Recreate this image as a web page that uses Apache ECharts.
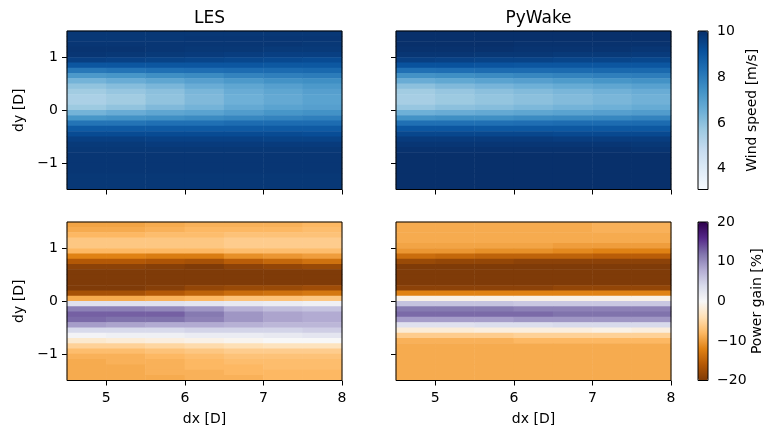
<!DOCTYPE html>
<html>
<head>
<meta charset="utf-8">
<script src="https://cdn.jsdelivr.net/npm/echarts@6/dist/echarts.min.js"></script>
<style>
html, body { margin: 0; padding: 0; background: #fff; }
#main { width: 774px; height: 435px; }
</style>
</head>
<body>
<div id="main"></div>
<script>
// cell centres of the grid (dx columns, dy rows listed top to bottom)
var dxCells = [4.75, 5.25, 5.75, 6.25, 6.75, 7.25, 7.75];
var dyCells = [1.45, 1.35, 1.25, 1.15, 1.05, 0.95, 0.85, 0.75, 0.65, 0.55, 0.45, 0.35, 0.25, 0.15, 0.05,
	-0.05, -0.15, -0.25, -0.35, -0.45, -0.55, -0.65, -0.75, -0.85, -0.95, -1.05, -1.15, -1.25, -1.35, -1.45];
var xTicks = [5, 6, 7, 8];
var yTicks = [-1, 0, 1];
var speedTicks = [4, 6, 8, 10];
var gainTicks = [-20, -10, 0, 10, 20];

// wind speed [m/s], one profile per dx column
var lesSpeed = [
	[9.8, 9.8, 9.85, 9.9, 9.85, 9.6, 9.0, 8.1, 7.2, 6.4, 5.9, 5.6, 5.4, 5.4, 5.7, 6.4, 7.3, 8.2, 8.9, 9.3, 9.6, 9.75, 9.8, 9.85, 9.85, 9.85, 9.85, 9.8, 9.8, 9.8],
	[9.8, 9.8, 9.85, 9.9, 9.8, 9.55, 9.0, 8.2, 7.3, 6.6, 6.1, 5.8, 5.6, 5.6, 5.9, 6.6, 7.4, 8.2, 8.9, 9.3, 9.6, 9.75, 9.8, 9.85, 9.85, 9.85, 9.85, 9.8, 9.8, 9.8],
	[9.8, 9.8, 9.85, 9.85, 9.75, 9.5, 9.0, 8.3, 7.5, 6.8, 6.3, 6.0, 5.9, 5.9, 6.2, 6.8, 7.5, 8.3, 8.9, 9.3, 9.55, 9.7, 9.8, 9.85, 9.85, 9.85, 9.85, 9.8, 9.8, 9.8],
	[9.8, 9.85, 9.85, 9.8, 9.7, 9.45, 9.0, 8.35, 7.6, 7.0, 6.6, 6.3, 6.2, 6.2, 6.4, 6.9, 7.6, 8.3, 8.9, 9.3, 9.55, 9.7, 9.8, 9.85, 9.85, 9.85, 9.85, 9.8, 9.8, 9.8],
	[9.8, 9.85, 9.85, 9.8, 9.65, 9.4, 9.0, 8.4, 7.8, 7.2, 6.8, 6.6, 6.5, 6.5, 6.7, 7.1, 7.7, 8.4, 8.9, 9.3, 9.55, 9.7, 9.8, 9.85, 9.85, 9.85, 9.85, 9.8, 9.8, 9.8],
	[9.8, 9.85, 9.85, 9.75, 9.6, 9.35, 8.95, 8.45, 7.9, 7.4, 7.0, 6.8, 6.7, 6.7, 6.9, 7.3, 7.8, 8.4, 8.9, 9.3, 9.5, 9.7, 9.8, 9.85, 9.85, 9.85, 9.85, 9.8, 9.8, 9.8],
	[9.8, 9.85, 9.8, 9.75, 9.6, 9.3, 8.95, 8.5, 8.0, 7.5, 7.2, 7.0, 6.9, 6.9, 7.0, 7.4, 7.9, 8.4, 8.9, 9.25, 9.5, 9.7, 9.8, 9.85, 9.85, 9.85, 9.85, 9.8, 9.8, 9.8]
];
var pyWakeSpeed = [
	[10, 10, 10, 9.95, 9.85, 9.6, 9.1, 8.3, 7.4, 6.6, 6.0, 5.6, 5.5, 5.5, 5.8, 6.5, 7.4, 8.3, 9.0, 9.4, 9.7, 9.85, 9.95, 10, 10, 10, 10, 10, 10, 10],
	[10, 10, 10, 9.95, 9.85, 9.55, 9.1, 8.35, 7.5, 6.75, 6.2, 5.8, 5.7, 5.7, 6.0, 6.6, 7.5, 8.3, 9.0, 9.4, 9.7, 9.85, 9.95, 10, 10, 10, 10, 10, 10, 10],
	[10, 10, 10, 9.95, 9.8, 9.5, 9.05, 8.4, 7.6, 6.9, 6.35, 6.0, 5.85, 5.85, 6.1, 6.7, 7.5, 8.3, 8.95, 9.4, 9.7, 9.85, 9.95, 10, 10, 10, 10, 10, 10, 10],
	[10, 10, 9.95, 9.9, 9.8, 9.5, 9.0, 8.4, 7.7, 7.0, 6.5, 6.15, 6.0, 6.0, 6.25, 6.8, 7.6, 8.35, 8.95, 9.4, 9.7, 9.85, 9.95, 10, 10, 10, 10, 10, 10, 10],
	[10, 10, 9.95, 9.9, 9.75, 9.45, 9.0, 8.45, 7.8, 7.15, 6.65, 6.3, 6.15, 6.15, 6.4, 6.9, 7.65, 8.4, 8.95, 9.35, 9.65, 9.85, 9.95, 10, 10, 10, 10, 10, 10, 10],
	[10, 10, 9.95, 9.9, 9.75, 9.45, 9.0, 8.5, 7.9, 7.3, 6.8, 6.45, 6.3, 6.3, 6.5, 7.0, 7.7, 8.4, 8.95, 9.35, 9.65, 9.85, 9.95, 10, 10, 10, 10, 10, 10, 10],
	[10, 10, 9.95, 9.85, 9.7, 9.4, 9.0, 8.5, 7.95, 7.4, 6.95, 6.6, 6.45, 6.45, 6.65, 7.1, 7.8, 8.45, 8.95, 9.35, 9.65, 9.8, 9.9, 10, 10, 10, 10, 10, 10, 10]
];

// power gain [%]
var lesGain = [
	[-9.5, -9, -8, -6.5, -6.5, -8, -12, -16, -19, -20, -20, -20, -20, -17, -9, 3, 11, 13, 12.5, 9, 4, 0.5, -2.5, -5.5, -7.5, -8.5, -9, -9, -9, -9],
	[-9.5, -9, -8, -6.5, -6.5, -8, -12, -16, -19, -20, -20, -20, -20, -17, -9, 3, 11, 13, 12, 8.5, 4, 1, -2, -5.5, -7.5, -8.5, -8.5, -9, -9, -9],
	[-9, -8.5, -7.5, -6.5, -6.5, -8, -12.5, -16.5, -19.5, -20, -20, -20, -19.5, -16, -8.5, 3, 10.5, 13, 12, 8, 4, 1, -1.5, -5, -7, -8, -8.5, -8.5, -8.5, -9],
	[-8.5, -8, -7.5, -6.5, -6.5, -8, -12.5, -17, -20, -20, -20, -20, -18.5, -15, -8, 2.5, 9.5, 11.5, 11, 8, 4.5, 1.5, -1, -4.5, -6.5, -7.5, -8, -8, -8.5, -8.5],
	[-8.5, -8, -7, -6, -6, -7.5, -11, -15.5, -19, -20, -20, -20, -18, -14, -7, 2, 7.5, 9.5, 9.5, 7.5, 4.5, 1.5, -0.5, -4, -6, -7, -7.5, -8, -8, -8.5],
	[-8.5, -8, -7, -6, -6, -7.5, -10.5, -14.5, -18.5, -20, -20, -20, -18, -13.5, -7, 1.5, 6.5, 8.5, 8.5, 7, 4.5, 2, 0, -3.5, -6, -7, -7.5, -7.5, -8, -8],
	[-8, -7.5, -7, -6, -6, -7.5, -10, -13.5, -18, -20, -20, -20, -17.5, -13, -6.5, 1, 6, 8, 8, 7, 5, 2.5, 0, -3.5, -6, -7, -7.5, -7.5, -8, -8]
];
var pyWakeGain = [
	[-9, -9, -9, -9, -9.5, -10.5, -14, -18, -20, -20, -20, -20, -19, -12, -1, 6, 11.5, 12.5, 9, 3, -2, -6, -8.5, -9, -9, -9, -9, -9, -9, -9],
	[-9, -9, -9, -9, -9.5, -10.5, -14.5, -18.5, -20, -20, -20, -20, -19, -12, -1, 6, 11.5, 12.5, 9, 3, -2, -6, -8.5, -9, -9, -9, -9, -9, -9, -9],
	[-9, -9, -9, -9, -9.5, -11, -15, -18.5, -20, -20, -20, -20, -19, -12, -1, 6, 11.5, 12.5, 9, 3.5, -1.5, -6, -8.5, -9, -9, -9, -9, -9, -9, -9],
	[-9, -9, -9, -9, -9.5, -11, -15, -19, -20, -20, -20, -20, -19, -12, -1, 5.5, 11, 12.5, 9.5, 3.5, -1.5, -5.5, -8, -9, -9, -9, -9, -9, -9, -9],
	[-9, -9, -9, -9, -10, -11.5, -15, -19, -20, -20, -20, -20, -18.5, -12, -1, 5.5, 11, 12, 9.5, 4, -1.5, -5.5, -8, -9, -9, -9, -9, -9, -9, -9],
	[-8.5, -8.5, -9, -9, -10, -12, -15.5, -19, -20, -20, -20, -20, -18.5, -12, -1, 5.5, 11, 12, 9.5, 4, -1, -5.5, -8, -9, -9, -9, -9, -9, -9, -9],
	[-8.5, -8.5, -9, -9, -10, -12, -15.5, -19, -20, -20, -20, -20, -18.5, -12, -1, 5.5, 11, 12, 9.5, 4, -1.5, -5.5, -8, -9, -9, -9, -9, -9, -9, -9]
];

var blues = ['#f7fbff', '#deebf7', '#c6dbef', '#9ecae1', '#6baed6', '#4292c6', '#2171b5', '#08519c', '#08306b'];
var puor = ['#7f3b08', '#b35806', '#e08214', '#fdb863', '#fee0b6', '#f7f7f7', '#d8daeb', '#b2abd2', '#8073ac', '#542788', '#2d004b'];

var font = 'DejaVu Sans';
var minus = function (v) { return String(v).replace('-', '\u2212'); };

function toCells(cols) {
	var out = [];
	cols.forEach(function (col, i) {
		col.forEach(function (v, j) { out.push([i, j, v]); });
	});
	return out;
}

var panels = [
	{ left: 67, top: 31, title: 'LES', data: lesSpeed, bottomRow: false, leftCol: true },
	{ left: 396, top: 31, title: 'PyWake', data: pyWakeSpeed, bottomRow: false, leftCol: false },
	{ left: 67, top: 222, title: '', data: lesGain, bottomRow: true, leftCol: true },
	{ left: 396, top: 222, title: '', data: pyWakeGain, bottomRow: true, leftCol: false }
];

var grid = [], xAxis = [], yAxis = [], series = [], title = [];
var tickStyle = { length: 5, lineStyle: { color: '#000', width: 1 } };
var labelStyle = { color: '#000', fontSize: 14, fontFamily: font };

panels.forEach(function (p, i) {
	grid.push({ left: p.left, top: p.top, width: 275, height: 158.5, show: true,
		borderColor: '#000', borderWidth: 1, backgroundColor: 'transparent', z: 10, outerBoundsMode: 'none' });
	xAxis.push({ gridIndex: i, type: 'category', data: dxCells, show: false, position: 'top' });
	xAxis.push({
		gridIndex: i, type: 'value', min: 4.5, max: 8, position: 'bottom',
		axisLine: { show: false }, splitLine: { show: false },
		axisTick: Object.assign({ customValues: xTicks }, tickStyle),
		axisLabel: Object.assign({ show: p.bottomRow, customValues: xTicks, margin: 11 }, labelStyle),
		name: p.bottomRow ? 'dx [D]' : '', nameLocation: 'middle', nameGap: 32,
		nameTextStyle: labelStyle
	});
	yAxis.push({ gridIndex: i, type: 'category', data: dyCells, inverse: true, show: false, position: 'right' });
	yAxis.push({
		gridIndex: i, type: 'value', min: -1.5, max: 1.5, position: 'left',
		axisLine: { show: false }, splitLine: { show: false },
		axisTick: Object.assign({ customValues: yTicks }, tickStyle),
		axisLabel: Object.assign({ show: p.leftCol, customValues: yTicks, margin: 9, formatter: minus }, labelStyle),
		name: p.leftCol ? 'dy [D]' : '', nameLocation: 'middle', nameGap: 41, nameRotate: 90,
		nameTextStyle: labelStyle
	});
	series.push({
		type: 'heatmap', xAxisIndex: 2 * i, yAxisIndex: 2 * i,
		data: toCells(p.data), emphasis: { disabled: true }, itemStyle: { borderWidth: 0 }
	});
	if (p.title) {
		title.push({ text: p.title, left: p.left + 137.5, top: 5, textAlign: 'center',
			textStyle: { fontSize: 17, fontWeight: 'normal', color: '#000', fontFamily: font } });
	}
});

// colorbar frames and tick axes
var bars = [
	{ top: 31, min: 3.1, max: 10, ticks: speedTicks, name: 'Wind speed [m/s]' },
	{ top: 222, min: -20, max: 20, ticks: gainTicks, name: 'Power gain [%]' }
];
bars.forEach(function (b, k) {
	var gi = 4 + k;
	grid.push({ left: 698, top: b.top, width: 10, height: 158.5, show: true,
		borderColor: '#000', borderWidth: 1, backgroundColor: 'transparent', z: 10, outerBoundsMode: 'none' });
	xAxis.push({ gridIndex: gi, type: 'value', show: false });
	yAxis.push({
		gridIndex: gi, type: 'value', min: b.min, max: b.max, position: 'right',
		axisLine: { show: false }, splitLine: { show: false },
		axisTick: Object.assign({ customValues: b.ticks }, tickStyle),
		axisLabel: Object.assign({ customValues: b.ticks, margin: 9, formatter: minus }, labelStyle),
		name: b.name, nameLocation: 'middle', nameGap: 37, nameRotate: 90,
		nameTextStyle: labelStyle
	});
});

var chartDom = document.getElementById('main');
var myChart = echarts.init(chartDom);
var option = {
	animation: false,
	backgroundColor: '#fff',
	title: title,
	grid: grid,
	xAxis: xAxis,
	yAxis: yAxis,
	visualMap: [
		{ type: 'continuous', seriesIndex: [0, 1], min: 3.1, max: 10, inRange: { color: blues },
			calculable: false, itemWidth: 10, itemHeight: 158.5, left: 698, top: 31, padding: 0, text: null, hoverLink: false },
		{ type: 'continuous', seriesIndex: [2, 3], min: -20, max: 20, inRange: { color: puor },
			calculable: false, itemWidth: 10, itemHeight: 158.5, left: 698, top: 222, padding: 0, text: null, hoverLink: false }
	],
	series: series
};
option && myChart.setOption(option);
</script>
</body>
</html>
